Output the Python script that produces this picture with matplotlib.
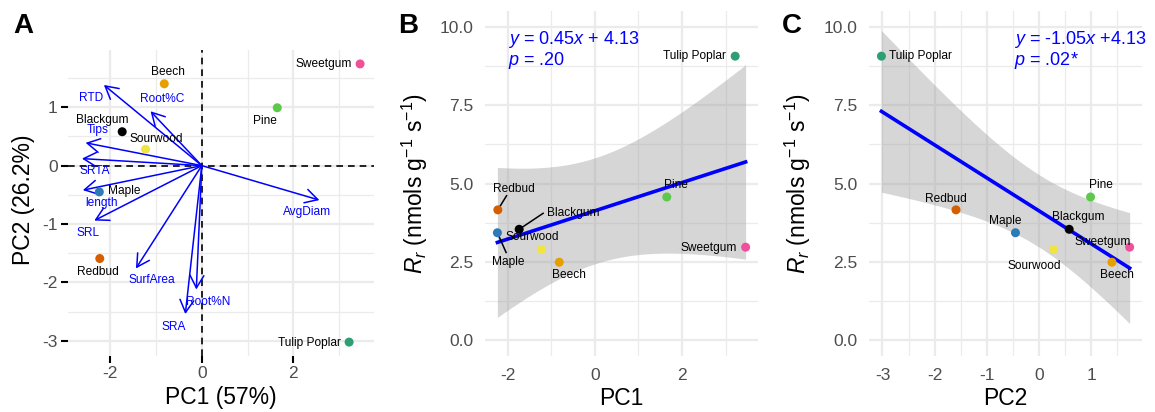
import numpy as np
import matplotlib
matplotlib.use("Agg")
import matplotlib.pyplot as plt
from matplotlib.ticker import FormatStrFormatter

plt.rcParams['font.family'] = ['Liberation Sans', 'DejaVu Sans']
plt.rcParams['mathtext.fontset'] = 'custom'
plt.rcParams['mathtext.rm'] = 'Liberation Sans'
plt.rcParams['mathtext.it'] = 'Liberation Sans:italic'
plt.rcParams['axes.unicode_minus'] = False

# species scores and root respiration
species = ['Blackgum', 'Beech', 'Maple', 'Pine', 'Redbud', 'Sourwood', 'Sweetgum', 'Tulip Poplar']
pc1 = np.array([-1.74, -0.82, -2.24, 1.65, -2.23, -1.23, 3.46, 3.22])
pc2 = np.array([0.58, 1.40, -0.45, 0.99, -1.59, 0.28, 1.74, -3.02])
rr = np.array([3.54, 2.49, 3.43, 4.57, 4.16, 2.90, 2.97, 9.06])
colors = ['#000000', '#E69F00', '#2C7BB6', '#5DC84B', '#D55E00', '#F0E442', '#F0509A', '#2E9E73']

# trait loadings (arrow tips)
traits = ['RTD', 'Root%C', 'Tips', 'SRTA', 'length', 'SRL', 'SurfArea', 'Root%N', 'SRA', 'AvgDiam']
load1 = np.array([-2.14, -1.12, -2.54, -2.62, -2.60, -2.35, -1.44, -0.12, -0.36, 2.57])
load2 = np.array([1.38, 0.93, 0.39, 0.12, -0.42, -0.94, -1.76, -2.12, -2.54, -0.59])

# fitted lines
slope_pc1, icpt_pc1, p_pc1 = 0.45, 4.13, '.20'
slope_pc2, icpt_pc2, p_pc2 = -1.05, 4.13, '.02*'
T_CRIT = 2.447  # qt(0.975, df = 6)

# label placement
lab_a = {'Blackgum': (-2.17, 0.78), 'Beech': (-0.75, 1.61), 'Maple': (-1.70, -0.43),
         'Pine': (1.38, 0.77), 'Redbud': (-2.28, -1.82), 'Sourwood': (-0.99, 0.46),
         'Sweetgum': (2.67, 1.74), 'Tulip Poplar': (2.36, -3.03)}
lab_traits = {'RTD': (-2.41, 1.16), 'Root%C': (-0.87, 1.14), 'Tips': (-2.27, 0.61),
              'SRTA': (-2.34, -0.09), 'length': (-2.19, -0.64), 'SRL': (-2.49, -1.16),
              'SurfArea': (-1.09, -1.96), 'Root%N': (0.15, -2.33), 'SRA': (-0.61, -2.76),
              'AvgDiam': (2.30, -0.80)}
lab_b = {'Blackgum': (-0.50, 4.07), 'Beech': (-0.60, 2.09), 'Maple': (-1.99, 2.49),
         'Pine': (1.86, 4.96), 'Redbud': (-1.87, 4.84), 'Sourwood': (-1.45, 3.28),
         'Sweetgum': (2.62, 2.95), 'Tulip Poplar': (2.29, 9.06)}
seg_b = {'Redbud': (-2.03, 4.61), 'Blackgum': (-1.19, 4.05), 'Maple': (-2.04, 2.80)}
lab_c = {'Blackgum': (0.75, 3.93), 'Beech': (1.50, 2.09), 'Maple': (-0.64, 3.81),
         'Pine': (1.18, 4.96), 'Redbud': (-1.79, 4.52), 'Sourwood': (-0.08, 2.37),
         'Sweetgum': (1.22, 3.15), 'Tulip Poplar': (-2.27, 9.06)}

GRID = '#EBEBEB'
TICKC = '#4D4D4D'


def style_axes(ax, xmaj, xmin, ymaj, ymin):
    for s in ax.spines.values():
        s.set_visible(False)
    ax.set_xticks(xmaj)
    ax.set_xticks(xmin, minor=True)
    ax.set_yticks(ymaj)
    ax.set_yticks(ymin, minor=True)
    ax.grid(True, which='major', color=GRID, lw=1.6)
    ax.grid(True, which='minor', color=GRID, lw=0.9)
    ax.set_axisbelow(True)
    ax.tick_params(which='minor', length=0)
    ax.tick_params(which='major', labelsize=12.5, labelcolor=TICKC, length=0, pad=8.5)


def expand(v, frac=0.05):
    lo, hi = np.min(v), np.max(v)
    d = (hi - lo) * frac
    return lo - d, hi + d


def fit_panel(ax, x, slope, icpt, pval, eq_xy, xlabel):
    xs = np.linspace(x.min(), x.max(), 100)
    n = len(x)
    resid = rr - (slope * x + icpt)
    s = np.sqrt(np.sum(resid ** 2) / (n - 2))
    sxx = np.sum((x - x.mean()) ** 2)
    se = s * np.sqrt(1 / n + (xs - x.mean()) ** 2 / sxx)
    fit = slope * xs + icpt
    ax.fill_between(xs, fit - T_CRIT * se, fit + T_CRIT * se, color='#999999', alpha=0.4, lw=0, zorder=1)
    ax.plot(xs, fit, color='blue', lw=2.6, zorder=2)
    ax.scatter(x, rr, c=colors, s=42, zorder=4, linewidths=0)
    ax.set_xlim(*expand(x))
    ax.set_ylim(-0.5, 10.5)
    sign = '+' if icpt >= 0 else '-'
    if slope < 0:
        eq = r'$y$ = %.2f$x$ %s%.2f' % (slope, sign, icpt)
    else:
        eq = r'$y$ = %.2f$x$ %s %.2f' % (slope, sign, icpt)
    ax.text(eq_xy[0], 9.45, eq, color='blue', fontsize=13, ha='left', va='baseline', zorder=5)
    ax.text(eq_xy[0], 8.77, r'$p$ = ' + pval, color='blue', fontsize=13, ha='left', va='baseline', zorder=5)
    ax.set_xlabel(xlabel, fontsize=16.5, va='center')
    ax.set_ylabel(r'$R_r$ (nmols g$^{-1}$ s$^{-1}$)', fontsize=16.5, va='center')


fig = plt.figure(figsize=(11.55, 4.12), dpi=100)
axA = fig.add_axes([0.0589, 0.1359, 0.2649, 0.7427])
axB = fig.add_axes([0.4199, 0.1359, 0.2364, 0.8374])
axC = fig.add_axes([0.7524, 0.1359, 0.2364, 0.8374])

# ---- A: PCA biplot
style_axes(axA, [-2, 0, 2], [-1, 1, 3], [-3, -2, -1, 0, 1], [-2.5, -1.5, -0.5, 0.5, 1.5])
axA.tick_params(which='major', length=5, width=1.5, color='black', pad=2.5)
axA.set_xlim(*expand(np.concatenate([pc1, load1, [0]])))
axA.set_ylim(*expand(np.concatenate([pc2, load2, [0]])))
axA.axhline(0, color='black', lw=1.2, ls=(0, (4, 3)), zorder=2)
axA.axvline(0, color='black', lw=1.2, ls=(0, (4, 3)), zorder=2)
for t, lx, ly in zip(traits, load1, load2):
    axA.annotate('', xy=(lx, ly), xytext=(0, 0),
                 arrowprops=dict(arrowstyle='->,head_length=0.45,head_width=0.25', color='blue',
                                 lw=1.1, shrinkA=0, shrinkB=0, mutation_scale=20), zorder=3)
    tx, ty = lab_traits[t]
    axA.text(tx, ty, t, color='blue', fontsize=8.6, ha='center', va='center', zorder=4)
axA.scatter(pc1, pc2, c=colors, s=42, zorder=5, linewidths=0)
for sp in species:
    tx, ty = lab_a[sp]
    axA.text(tx, ty, sp, fontsize=8.6, ha='center', va='center', zorder=6)
axA.set_xlabel('PC1 (57%)', fontsize=16.5, va='center')
axA.set_ylabel('PC2 (26.2%)', fontsize=16.5, va='center')
axA.xaxis.set_label_coords(0.5, -0.137)
axA.yaxis.set_label_coords(-0.147, 0.51)

# ---- B: Rr vs PC1
style_axes(axB, [-2, 0, 2], [-1, 1, 3], [0, 2.5, 5, 7.5, 10], [1.25, 3.75, 6.25, 8.75])
axB.yaxis.set_major_formatter(FormatStrFormatter('%.1f'))
fit_panel(axB, pc1, slope_pc1, icpt_pc1, p_pc1, (-1.99, 0), 'PC1')
for sp, x0, y0 in zip(species, pc1, rr):
    if sp in seg_b:
        ex, ey = seg_b[sp]
        axB.plot([x0, ex], [y0, ey], color='black', lw=1.1, zorder=3)
    tx, ty = lab_b[sp]
    axB.text(tx, ty, sp, fontsize=8.6, ha='center', va='center', zorder=6)
axB.xaxis.set_label_coords(0.5, -0.122)
axB.yaxis.set_label_coords(-0.256, 0.5)

# ---- C: Rr vs PC2
style_axes(axC, [-3, -2, -1, 0, 1], [-2.5, -1.5, -0.5, 0.5, 1.5], [0, 2.5, 5, 7.5, 10], [1.25, 3.75, 6.25, 8.75])
axC.yaxis.set_major_formatter(FormatStrFormatter('%.1f'))
fit_panel(axC, pc2, slope_pc2, icpt_pc2, p_pc2, (-0.47, 0), 'PC2')
for sp in species:
    tx, ty = lab_c[sp]
    axC.text(tx, ty, sp, fontsize=8.6, ha='center', va='center', zorder=6)
axC.xaxis.set_label_coords(0.5, -0.122)
axC.yaxis.set_label_coords(-0.26, 0.5)

# panel letters
for lab, x in [('A', 23), ('B', 408), ('C', 792)]:
    fig.text(x / 1155, (412 - 33) / 412, lab, fontsize=20, fontweight='bold', ha='center', va='baseline')

fig.savefig('out.png', dpi=100)
